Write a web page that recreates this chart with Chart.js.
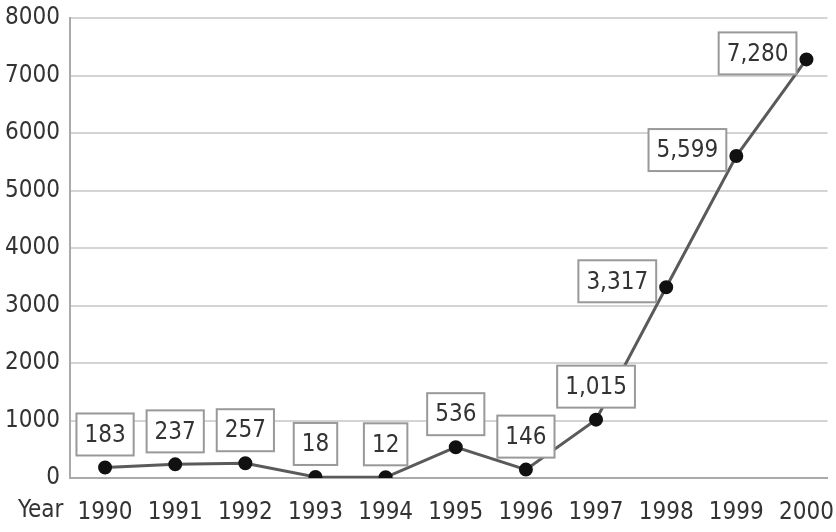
<!DOCTYPE html>
<html>
<head>
<meta charset="utf-8">
<script src="https://cdn.jsdelivr.net/npm/chart.js@4"></script>
<style>
  html, body { margin: 0; padding: 0; background: #fff; }
  #wrap { width: 836px; height: 532px; }
</style>
</head>
<body>
<div id="wrap"><canvas id="chart"></canvas></div>
<script>
// values
const years = [1990, 1991, 1992, 1993, 1994, 1995, 1996, 1997, 1998, 1999, 2000];
const values = [183, 237, 257, 18, 12, 536, 146, 1015, 3317, 5599, 7280];
const yTicks = [0, 1000, 2000, 3000, 4000, 5000, 6000, 7000, 8000];

const FONT = '"DejaVu Sans Condensed", sans-serif';

// boxed value labels, above the point for small values, left of it for big ones
const boxLabels = {
    id: 'boxLabels',
    afterDatasetsDraw(chart) {
        const ctx = chart.ctx;
        const meta = chart.getDatasetMeta(0);
        ctx.save();
        ctx.font = '24px ' + FONT;
        ctx.textAlign = 'center';
        ctx.textBaseline = 'middle';
        meta.data.forEach((pt, i) => {
            const text = values[i].toLocaleString('en-US');
            const w = ctx.measureText(text).width + 16;
            const h = 42;
            let cx, cy;
            if (values[i] > 3000) {
                cx = pt.x - 10 - w / 2;
                cy = pt.y - 6;
            } else {
                cx = pt.x;
                cy = pt.y - 33;
            }
            ctx.fillStyle = '#fff';
            ctx.fillRect(cx - w / 2, cy - h / 2, w, h);
            ctx.strokeStyle = '#999';
            ctx.lineWidth = 2;
            ctx.strokeRect(cx - w / 2, cy - h / 2, w, h);
            ctx.fillStyle = '#333';
            ctx.fillText(text, cx, cy + 1);
        });
        ctx.restore();
    },
    afterDraw(chart) {
        // "Year" caption on the x tick row
        const ctx = chart.ctx;
        ctx.save();
        ctx.font = '24px ' + FONT;
        ctx.fillStyle = '#333';
        ctx.textAlign = 'left';
        ctx.textBaseline = 'middle';
        ctx.fillText('Year', 18, chart.chartArea.bottom + 33);
        ctx.restore();
    }
};

new Chart(document.getElementById('chart'), {
    type: 'line',
    data: {
        datasets: [{
            data: years.map((y, i) => ({ x: y, y: values[i] })),
            borderColor: '#5a5a5a',
            borderWidth: 3,
            pointBackgroundColor: '#111',
            pointBorderColor: '#111',
            pointRadius: 5.5,
            tension: 0
        }]
    },
    options: {
        responsive: true,
        maintainAspectRatio: false,
        animation: false,
        layout: { padding: { top: 18, right: 0, left: 0, bottom: 0 } },
        plugins: { legend: { display: false }, tooltip: { enabled: false } },
        scales: {
            x: {
                type: 'linear',
                min: 1989.5,
                max: 2000.3,
                afterBuildTicks: s => { s.ticks = years.map(v => ({ value: v })); },
                afterFit: s => { s.height = 54; s.paddingLeft = 0; s.paddingRight = 0; },
                grid: { display: false, drawTicks: false },
                border: { color: '#aaa', width: 2 },
                ticks: {
                    color: '#333',
                    font: { family: FONT, size: 24 },
                    padding: 20,
                    maxRotation: 0,
                    callback: v => String(v)
                }
            },
            y: {
                min: 0,
                max: 8000,
                afterBuildTicks: s => { s.ticks = yTicks.map(v => ({ value: v })); },
                afterFit: s => { s.width = 70; s.paddingTop = 0; s.paddingBottom = 0; },
                grid: { color: '#d4d4d4', lineWidth: 2, drawTicks: false },
                border: { color: '#aaa', width: 2 },
                ticks: {
                    color: '#333',
                    font: { family: FONT, size: 24 },
                    padding: 10,
                    callback: v => String(v)
                }
            }
        }
    },
    plugins: [boxLabels]
});
</script>
</body>
</html>
